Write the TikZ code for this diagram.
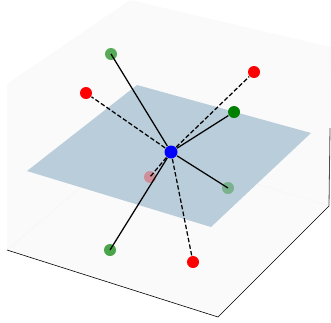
\documentclass[tikz,border=0pt]{standalone}
\usepackage{tikz}

\definecolor{planeblue}{RGB}{186,205,218}
\definecolor{panegray}{RGB}{250,250,250}
\definecolor{mplgreen}{RGB}{0,128,0}

\begin{document}
\begin{tikzpicture}[x=1pt,y=-1pt,line width=1.25pt,
  dot/.style={circle,inner sep=0pt,minimum size=12pt},
  gdot/.style={dot,fill=mplgreen},
  rdot/.style={dot,fill=red},
  bond/.style={black},
  dbond/.style={black,dash pattern=on 4.5pt off 2.2pt}]
  \useasboundingbox (0,0) rectangle (331,322);
  % paneles de la caja
  \fill[panegray] (7,250) -- (7,84) -- (130,0) -- (130,145) -- cycle;
  \fill[panegray] (130,0) -- (331,47) -- (329,206) -- (130,145) -- cycle;
  \fill[panegray] (7,250) -- (130,145) -- (329,206) -- (218,317) -- cycle;
  \draw[line width=0.4pt,gray!8] (7,250) -- (130,145) -- (329,206);
  \draw[line width=0.6pt] (7,250) -- (218,317) -- (329,206);
  \draw[line width=0.8pt,gray!60!black] (329,206) -- (330,128);
  % plano
  \fill[planeblue] (27,171) -- (137,85) -- (311,133) -- (211,227) -- cycle;
  % puntos
  \node[rdot,opacity=0.3] (r3) at (150,177) {};
  \node[gdot,opacity=0.35] (g3) at (228,188) {};
  \node[gdot,opacity=0.65] (g1) at (111,54) {};
  \node[gdot,opacity=0.7] (g4) at (110,250) {};
  \node[gdot] (g2) at (234,112) {};
  \node[rdot] (r1) at (86,93) {};
  \node[rdot] (r2) at (254,72) {};
  \node[rdot] (r4) at (193,262) {};
  \node[dot,minimum size=13pt,fill=blue] (c) at (171,152) {};
  % enlaces
  \draw[bond] (c) -- (g1.center);
  \draw[bond] (c) -- (g2);
  \draw[bond] (c) -- (g3.center);
  \draw[bond] (c) -- (g4.center);
  \draw[dbond] (c) -- (r1);
  \draw[dbond] (c) -- (r2);
  \draw[dbond] (c) -- (r3.center);
  \draw[dbond] (c) -- (r4);
\end{tikzpicture}
\end{document}
